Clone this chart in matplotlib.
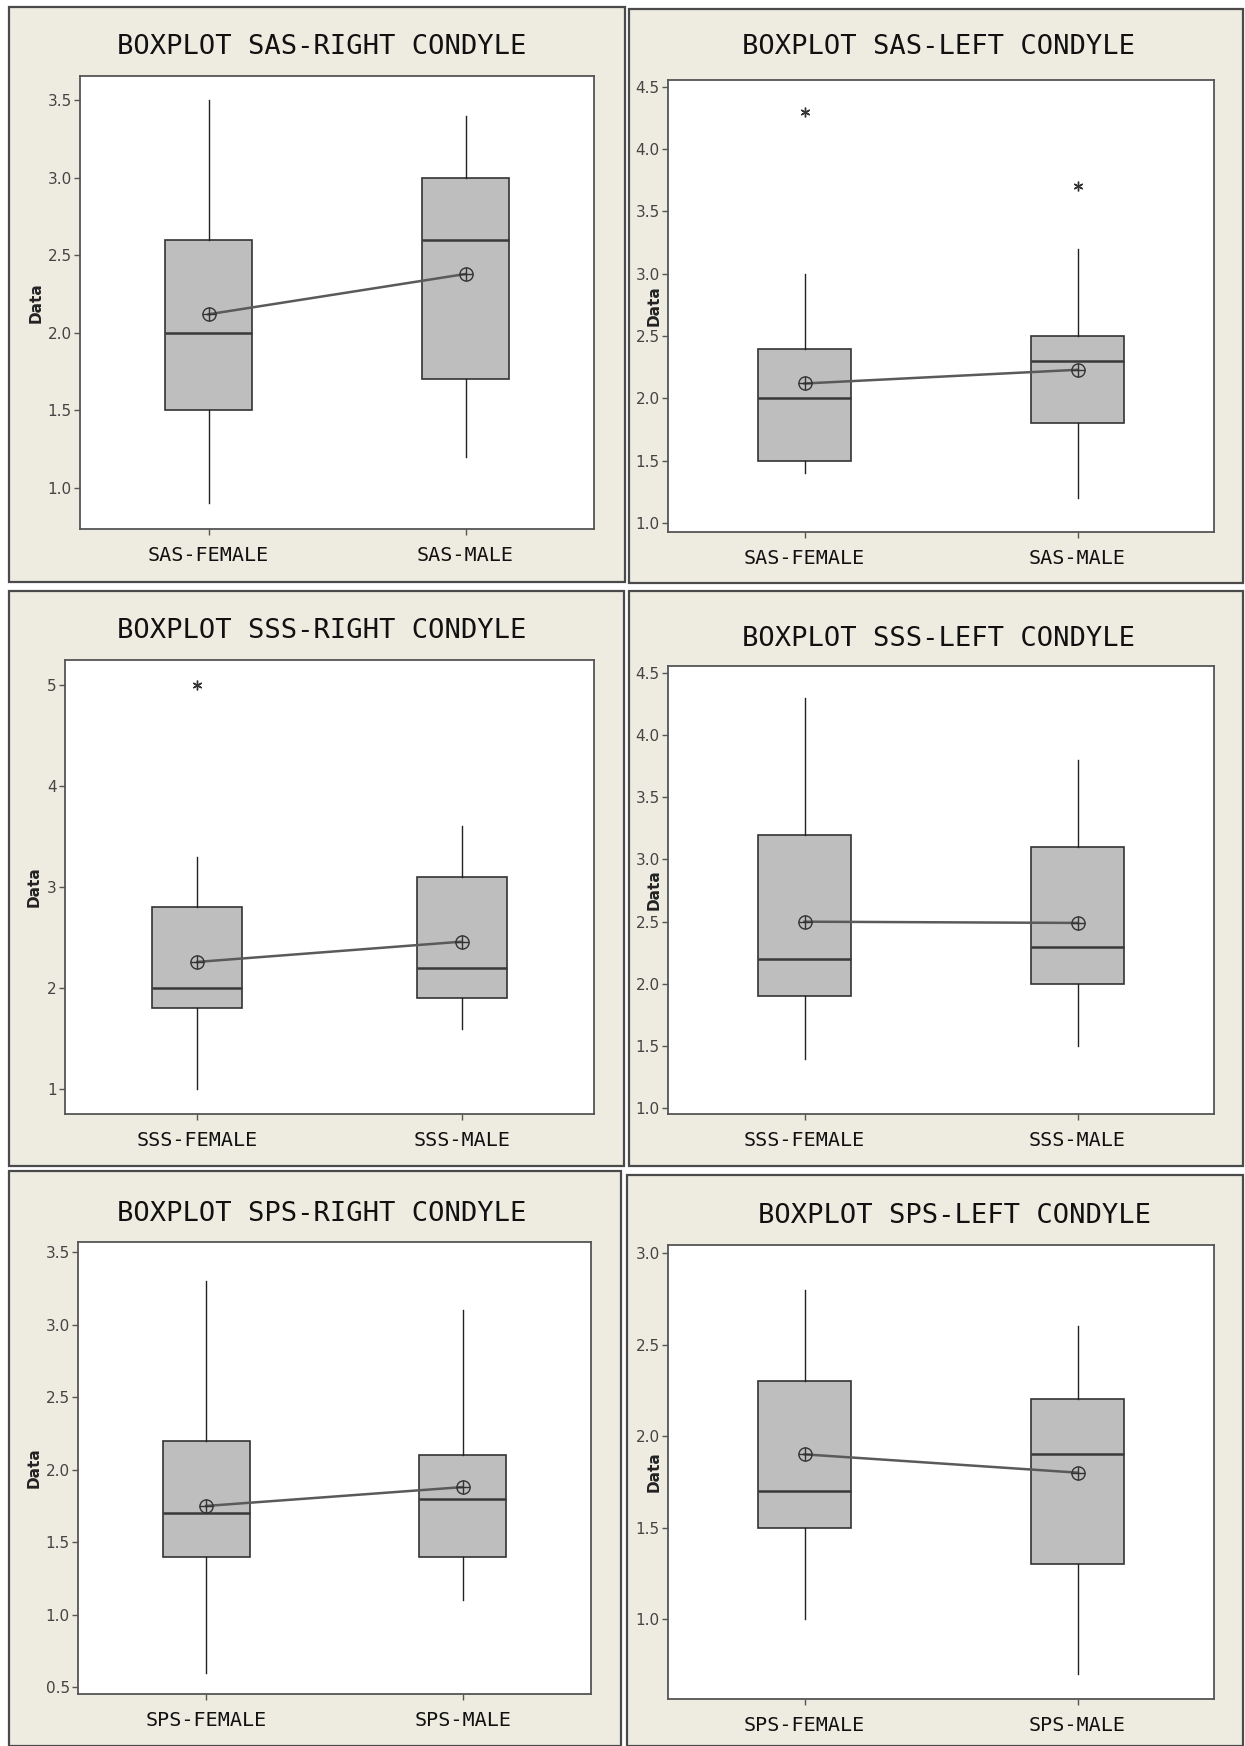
import matplotlib.pyplot as plt
from matplotlib.patches import Rectangle

# ---- data ----
titles = ['BOXPLOT SAS-RIGHT CONDYLE', 'BOXPLOT SAS-LEFT CONDYLE',
          'BOXPLOT SSS-RIGHT CONDYLE', 'BOXPLOT SSS-LEFT CONDYLE',
          'BOXPLOT SPS-RIGHT CONDYLE', 'BOXPLOT SPS-LEFT CONDYLE']
groups = [['SAS-FEMALE', 'SAS-MALE'], ['SAS-FEMALE', 'SAS-MALE'],
          ['SSS-FEMALE', 'SSS-MALE'], ['SSS-FEMALE', 'SSS-MALE'],
          ['SPS-FEMALE', 'SPS-MALE'], ['SPS-FEMALE', 'SPS-MALE']]
whislo = [[0.9, 1.2], [1.4, 1.2], [1.0, 1.6], [1.4, 1.5], [0.6, 1.1], [1.0, 0.7]]
q1 = [[1.5, 1.7], [1.5, 1.8], [1.8, 1.9], [1.9, 2.0], [1.4, 1.4], [1.5, 1.3]]
med = [[2.0, 2.6], [2.0, 2.3], [2.0, 2.2], [2.2, 2.3], [1.7, 1.8], [1.7, 1.9]]
q3 = [[2.6, 3.0], [2.4, 2.5], [2.8, 3.1], [3.2, 3.1], [2.2, 2.1], [2.3, 2.2]]
whishi = [[3.5, 3.4], [3.0, 3.2], [3.3, 3.6], [4.3, 3.8], [3.3, 3.1], [2.8, 2.6]]
means = [[2.12, 2.38], [2.12, 2.23], [2.26, 2.46], [2.50, 2.49], [1.75, 1.88], [1.90, 1.80]]
outliers = [[[], []], [[4.3], [3.7]], [[5.0], []], [[], []], [[], []], [[], []]]
yticks = [[1.0, 1.5, 2.0, 2.5, 3.0, 3.5],
          [1.0, 1.5, 2.0, 2.5, 3.0, 3.5, 4.0, 4.5],
          [1, 2, 3, 4, 5],
          [1.0, 1.5, 2.0, 2.5, 3.0, 3.5, 4.0, 4.5],
          [0.5, 1.0, 1.5, 2.0, 2.5, 3.0, 3.5],
          [1.0, 1.5, 2.0, 2.5, 3.0]]
yfmt = ['%.1f', '%.1f', '%d', '%.1f', '%.1f', '%.1f']

# ---- layout (pixels) ----
W, H = 1245, 1746
ylims = [(0.734, 3.658), (0.929, 4.554), (0.758, 5.242),
         (0.955, 4.554), (0.454, 3.569), (0.563, 3.044)]
panel_box = [(9, 7, 625, 582), (629, 9, 1243, 583),
             (9, 591, 624, 1166), (629, 591, 1243, 1166),
             (9, 1171, 621, 1746), (627, 1175, 1243, 1746)]
plot_box = [(80, 76, 594, 529), (668, 80, 1214, 532),
            (65, 660, 594, 1114), (668, 666, 1214, 1114),
            (78, 1242, 591, 1694), (668, 1245, 1214, 1699)]
title_pos = [(322, 47), (939, 47), (322, 631), (939, 639), (322, 1214), (955, 1216)]
label_x = [36, 654, 34, 654, 34, 654]

fig = plt.figure(figsize=(W / 100, H / 100), dpi=100, facecolor='white')


def fx(x):
    return x / W


def fy(y):
    return 1 - y / H


for i in range(6):
    x0, y0, x1, y1 = panel_box[i]
    fig.patches.append(Rectangle((fx(x0), fy(y1)), fx(x1) - fx(x0), fy(y0) - fy(y1),
                                 transform=fig.transFigure, facecolor='#EEEBE0',
                                 edgecolor='#4a4a4a', lw=1.6, zorder=-5))

    a0, b0, a1, b1 = plot_box[i]
    ax = fig.add_axes([fx(a0), fy(b1), fx(a1) - fx(a0), fy(b0) - fy(b1)])
    ax.set_zorder(1)
    ax.set_facecolor('white')

    stats = []
    for j in range(2):
        stats.append(dict(whislo=whislo[i][j], q1=q1[i][j], med=med[i][j],
                          q3=q3[i][j], whishi=whishi[i][j], fliers=outliers[i][j],
                          mean=means[i][j]))
    ax.bxp(stats, positions=[1, 2], widths=0.34, patch_artist=True, showcaps=False,
           boxprops=dict(facecolor='#BEBEBE', edgecolor='#333333', lw=1.2),
           medianprops=dict(color='#3a3a3a', lw=1.8),
           whiskerprops=dict(color='#222222', lw=1.0),
           flierprops=dict(marker=(6, 2, 0), markersize=7, markeredgecolor='#333333',
                           markeredgewidth=1.0))

    ax.plot([1, 2], means[i], color='#5a5a5a', lw=1.8, zorder=4)
    ax.plot([1, 2], means[i], 'o', mfc='none', mec='#333333', ms=9.5, mew=1.0, zorder=5)
    ax.plot([1, 2], means[i], '+', mec='#333333', ms=9.5, mew=1.0, zorder=5)

    ax.set_xlim(0.5, 2.5)
    ax.set_ylim(*ylims[i])
    ax.set_xticks([1, 2])
    ax.set_xticklabels(groups[i], family='DejaVu Sans Mono', fontsize=14.5, color='#111111')
    ax.set_yticks(yticks[i])
    ax.set_yticklabels([yfmt[i] % v for v in yticks[i]],
                       family=['Liberation Sans Narrow', 'DejaVu Sans'],
                       fontsize=11, color='#444444')
    ax.tick_params(axis='y', direction='out', length=4, width=1, color='#555555', pad=2)
    ax.tick_params(axis='x', direction='out', length=4, width=1, color='#555555', pad=8)
    for s in ax.spines.values():
        s.set_color('#555555')
        s.set_linewidth(1.3)

    cx, cy = title_pos[i]
    fig.text(fx(cx), fy(cy), titles[i], ha='center', va='center',
             family='DejaVu Sans Mono', fontsize=19.5, color='#111111')
    fig.text(fx(label_x[i]), fy((b0 + b1) / 2), 'Data', rotation=90, ha='center',
             va='center', family='DejaVu Sans', fontweight='bold',
             fontsize=11, color='#222222')

fig.savefig('out.png', dpi=100, facecolor=fig.get_facecolor())
